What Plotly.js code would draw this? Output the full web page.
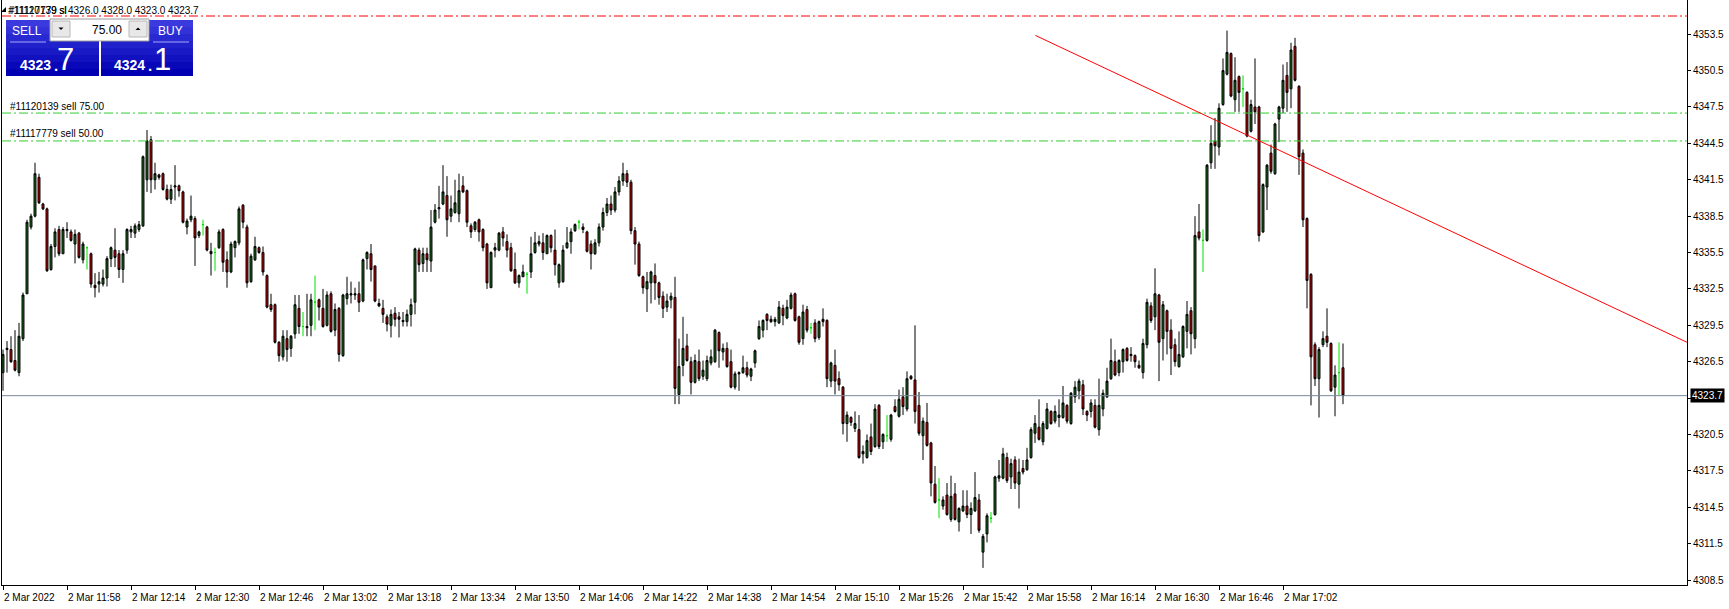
<!DOCTYPE html>
<html><head><meta charset="utf-8">
<script src="https://cdn.plot.ly/plotly-3.0.1.min.js"></script>
<style>html,body{margin:0;padding:0;background:#fff;overflow:hidden}#chart{width:1729px;height:609px}</style>
</head><body><div id="chart"></div><script>
// ---- data: 1-minute bars, 2 Mar 2022 11:42 .. 17:17 ----
const opens = [
4325.6,4327.5,4327.5,4326.6,4325.6,4328.4,4332.1,4337.6,4338.5,4341.7,
4339.5,4339.1,4334.1,4336.0,4337.4,4335.4,4337.3,4337.2,4336.2,4337.1,
4334.9,4335.9,4335.4,4332.8,4332.9,4332.9,4333.4,4335.0,4335.7,4335.4,
4334.1,4335.7,4337.2,4337.1,4337.4,4337.7,4341.5,4344.8,4341.5,4341.9,
4342.0,4340.7,4339.9,4340.9,4341.0,4340.5,4337.6,4338.2,4338.3,4336.9,
4337.8,4337.6,4335.6,4335.5,4335.9,4337.4,4334.9,4333.9,4335.9,4336.3,
4339.4,4337.6,4333.1,4334.9,4335.9,4335.5,4333.6,4331.2,4331.2,4328.1,
4326.9,4328.4,4327.6,4328.8,4330.9,4329.4,4329.4,4329.5,4331.4,4331.6,
4330.9,4329.5,4332.1,4329.1,4330.9,4327.0,4331.7,4332.0,4332.0,4332.1,
4331.5,4335.0,4335.4,4334.4,4331.1,4330.9,4330.2,4329.5,4330.5,4330.2,
4329.8,4329.8,4330.4,4331.4,4335.7,4334.6,4335.4,4334.8,4338.0,4339.1,
4339.5,4340.2,4338.5,4338.8,4338.7,4341.0,4340.6,4337.7,4337.4,4338.2,
4337.4,4336.2,4332.6,4335.7,4335.7,4337.2,4336.4,4335.9,4334.1,4333.0,
4333.5,4333.7,4333.9,4335.5,4336.2,4336.3,4335.4,4336.9,4335.7,4333.0,
4333.1,4335.9,4336.4,4337.3,4338.0,4337.6,4337.2,4336.2,4335.4,4336.3,
4337.6,4338.8,4339.5,4339.0,4340.5,4341.4,4342.0,4341.3,4337.3,4336.2,
4333.5,4332.5,4333.0,4333.6,4333.0,4331.9,4331.0,4331.6,4331.8,4323.8,
4326.2,4327.8,4326.5,4324.8,4326.5,4325.3,4325.1,4326.4,4326.5,4328.9,
4327.3,4327.6,4326.5,4324.4,4325.6,4325.6,4326.0,4325.3,4326.4,4328.4,
4329.1,4330.4,4330.0,4329.8,4329.7,4330.9,4330.1,4330.9,4332.1,4330.2,
4328.4,4330.8,4329.3,4329.7,4328.5,4330.0,4329.9,4324.9,4326.2,4325.1,
4324.4,4321.4,4321.9,4321.0,4320.9,4318.9,4318.6,4320.3,4319.5,4322.9,
4319.9,4320.4,4320.1,4322.8,4322.0,4323.6,4322.6,4325.3,4325.0,4322.9,
4320.4,4321.5,4319.8,4316.4,4315.1,4314.6,4315.5,4313.5,4315.6,4313.3,
4314.2,4314.6,4313.9,4314.2,4315.1,4310.8,4312.3,4313.6,4313.9,4316.9,
4316.9,4318.6,4317.0,4318.4,4316.4,4317.7,4317.6,4318.6,4320.6,4321.1,
4319.9,4321.0,4322.4,4321.6,4321.9,4321.9,4322.9,4321.4,4323.6,4324.1,
4324.6,4322.4,4322.4,4322.9,4320.9,4322.6,4323.6,4325.1,4326.5,4325.6,
4326.5,4327.6,4327.0,4327.0,4326.2,4325.6,4327.9,4331.1,4330.2,4332.0,
4328.4,4330.7,4329.1,4327.9,4326.1,4326.9,4329.0,4330.7,4328.4,4337.2,
4336.5,4336.5,4342.9,4344.7,4344.2,4347.7,4350.2,4351.9,4348.1,4350.0,
4349.0,4348.7,4345.5,4347.5,4347.5,4337.2,4340.9,4343.7,4342.0,4346.5,
4347.4,4350.1,4349.0,4352.5,4349.2,4343.7,4338.3,4333.7,4327.9,4325.1,
4327.9,4328.6,4328.0,4324.4,4325.6,4326.0];
const highs = [
4327.5,4328.2,4328.6,4329.1,4329.7,4332.2,4338.2,4338.7,4342.9,4342.0,
4339.6,4339.2,4336.2,4337.5,4337.7,4337.6,4338.0,4337.4,4337.4,4337.2,
4336.4,4336.0,4335.5,4333.8,4333.9,4334.1,4335.2,4336.0,4337.5,4335.7,
4335.7,4337.5,4337.7,4337.9,4338.1,4343.5,4345.6,4345.1,4342.9,4342.0,
4342.1,4341.1,4341.1,4342.7,4341.1,4340.6,4338.3,4340.2,4338.5,4337.3,
4338.2,4337.7,4336.3,4335.9,4337.4,4337.5,4335.6,4336.4,4336.5,4339.3,
4339.5,4337.8,4335.4,4336.8,4336.0,4336.0,4333.7,4332.1,4331.3,4328.2,
4329.1,4329.1,4328.7,4332.0,4332.0,4330.6,4332.1,4332.1,4333.6,4331.7,
4332.5,4332.3,4332.3,4331.3,4331.0,4332.1,4333.5,4333.1,4332.6,4333.1,
4335.0,4335.6,4336.2,4334.4,4331.7,4331.6,4330.4,4330.8,4331.0,4330.6,
4330.6,4330.8,4331.7,4335.9,4335.9,4335.9,4335.9,4339.0,4339.5,4341.0,
4342.7,4341.8,4340.2,4341.5,4342.0,4341.8,4340.7,4337.9,4338.1,4338.3,
4337.5,4336.3,4335.6,4336.3,4337.2,4337.6,4337.0,4336.3,4335.5,4333.7,
4334.5,4333.9,4336.8,4337.2,4336.9,4337.1,4337.0,4337.0,4337.4,4334.6,
4336.1,4337.6,4337.5,4337.9,4338.2,4337.9,4337.3,4336.5,4336.6,4337.9,
4339.2,4340.0,4340.2,4340.9,4341.8,4342.9,4342.3,4341.5,4337.6,4336.4,
4333.6,4333.9,4334.0,4334.6,4333.1,4332.3,4332.1,4332.2,4333.5,4328.4,
4330.2,4328.8,4326.9,4327.1,4327.5,4326.6,4327.0,4327.5,4329.2,4329.0,
4328.0,4328.1,4327.5,4325.7,4325.7,4327.0,4326.5,4326.0,4327.5,4329.9,
4330.0,4330.5,4330.3,4330.2,4331.5,4331.2,4331.6,4332.2,4332.2,4330.3,
4331.2,4331.1,4329.7,4330.0,4329.9,4330.9,4330.0,4326.5,4327.5,4325.7,
4324.5,4322.4,4322.0,4322.4,4322.1,4319.6,4320.5,4321.4,4323.0,4323.0,
4320.6,4322.1,4322.2,4323.4,4324.2,4324.4,4325.7,4325.4,4329.5,4324.0,
4321.9,4323.1,4319.9,4317.9,4316.9,4315.4,4316.5,4317.1,4316.5,4314.5,
4315.9,4315.9,4314.9,4317.4,4315.6,4312.3,4314.0,4314.1,4317.1,4318.4,
4319.4,4319.0,4318.5,4318.7,4318.5,4318.4,4319.4,4321.1,4322.1,4323.4,
4321.6,4323.1,4322.5,4322.9,4323.4,4324.5,4323.0,4324.0,4324.9,4325.1,
4325.0,4322.5,4323.4,4323.4,4325.1,4324.2,4326.0,4328.4,4327.5,4326.7,
4327.6,4327.7,4327.7,4327.1,4326.6,4328.4,4331.7,4331.4,4334.2,4332.1,
4331.5,4330.8,4330.0,4328.4,4329.0,4329.5,4331.5,4331.0,4338.5,4339.5,
4337.4,4342.8,4346.0,4346.6,4347.8,4351.5,4353.8,4352.0,4351.6,4350.1,
4350.1,4348.8,4348.1,4351.5,4347.6,4341.2,4342.8,4344.4,4346.2,4347.6,
4351.0,4351.2,4352.8,4353.2,4349.3,4344.0,4338.4,4333.8,4328.1,4327.7,
4329.0,4330.9,4328.1,4326.2,4328.1,4328.0];
const lows = [
4324.1,4325.6,4326.4,4325.7,4325.3,4328.2,4332.1,4337.4,4338.4,4339.5,
4339.0,4333.9,4334.0,4335.1,4335.2,4335.4,4336.7,4336.4,4334.6,4335.0,
4334.6,4334.1,4332.6,4331.8,4332.2,4332.7,4332.7,4334.3,4334.3,4333.4,
4333.0,4335.4,4336.7,4336.7,4337.2,4337.6,4340.5,4340.4,4340.7,4341.5,
4340.6,4339.8,4339.5,4339.8,4340.1,4337.9,4337.0,4338.0,4334.4,4336.7,
4336.9,4335.6,4333.6,4334.0,4335.8,4333.9,4332.6,4333.8,4335.1,4336.1,
4337.5,4332.6,4333.0,4334.8,4335.4,4333.6,4330.9,4330.6,4328.0,4326.5,
4326.6,4326.5,4326.9,4328.4,4328.8,4328.6,4328.6,4328.6,4329.1,4329.9,
4329.3,4329.4,4328.9,4328.6,4326.5,4326.9,4331.2,4331.3,4331.6,4330.6,
4331.4,4334.1,4333.1,4331.4,4331.0,4329.7,4329.0,4328.5,4329.4,4328.5,
4329.4,4329.4,4329.4,4330.4,4333.9,4333.9,4333.9,4333.9,4337.9,4338.3,
4339.4,4336.8,4338.0,4338.7,4338.0,4340.4,4337.6,4336.7,4337.2,4336.4,
4335.6,4332.5,4332.6,4335.1,4335.6,4336.0,4335.1,4333.9,4332.9,4332.6,
4333.5,4332.1,4333.4,4335.4,4336.0,4334.9,4335.4,4335.5,4333.6,4332.6,
4333.0,4335.8,4335.4,4337.2,4337.4,4337.1,4335.5,4334.1,4335.3,4336.0,
4337.3,4338.5,4338.6,4338.8,4340.2,4341.0,4340.9,4337.0,4334.5,4333.5,
4332.1,4330.6,4331.3,4331.6,4331.2,4330.1,4330.6,4330.9,4323.0,4323.0,
4325.3,4326.5,4323.8,4324.7,4324.9,4325.0,4324.9,4326.2,4326.4,4326.0,
4326.6,4326.0,4324.3,4324.2,4324.1,4325.5,4325.2,4324.9,4326.0,4328.3,
4328.5,4329.1,4329.7,4329.4,4329.6,4329.5,4330.0,4330.8,4329.8,4327.9,
4327.9,4328.9,4328.8,4328.1,4328.3,4329.4,4324.4,4324.4,4323.8,4324.1,
4320.5,4319.9,4321.2,4320.7,4318.5,4318.1,4318.5,4318.8,4319.4,4319.3,
4319.3,4319.9,4319.9,4322.3,4321.9,4322.1,4322.4,4325.0,4321.4,4320.4,
4318.4,4319.5,4315.4,4314.8,4313.6,4314.3,4313.8,4313.3,4313.4,4312.5,
4314.1,4313.6,4312.3,4314.1,4312.4,4309.5,4311.6,4313.2,4313.8,4316.6,
4316.8,4316.5,4316.0,4316.0,4314.4,4317.2,4317.5,4318.5,4319.8,4320.0,
4319.6,4320.9,4321.3,4321.4,4321.1,4321.8,4321.4,4321.3,4323.1,4323.4,
4322.1,4321.6,4321.9,4321.0,4320.4,4322.0,4323.5,4325.0,4325.3,4325.3,
4325.6,4326.5,4326.5,4326.0,4325.9,4325.1,4327.6,4329.7,4329.1,4324.9,
4326.6,4327.1,4325.4,4326.1,4326.0,4326.8,4327.6,4327.1,4327.6,4336.5,
4333.9,4336.4,4342.4,4342.4,4343.5,4347.6,4350.1,4348.3,4347.1,4347.1,
4347.5,4345.0,4345.4,4346.1,4336.4,4337.1,4339.0,4342.0,4341.9,4344.6,
4347.0,4347.1,4347.4,4349.6,4341.9,4337.6,4330.9,4322.9,4324.5,4321.9,
4327.7,4327.7,4324.0,4322.0,4323.7,4323.0];
const closes = [
4327.1,4327.6,4326.5,4325.8,4328.6,4332.0,4338.0,4338.5,4342.0,4339.6,
4339.1,4334.0,4336.0,4337.2,4335.4,4337.4,4337.4,4336.5,4337.0,4335.1,
4336.2,4335.9,4332.9,4332.6,4333.1,4333.4,4335.0,4335.9,4335.1,4334.1,
4335.4,4337.4,4337.4,4337.7,4337.8,4343.4,4344.7,4341.5,4342.0,4341.7,
4340.7,4339.9,4340.7,4341.0,4340.6,4338.0,4338.1,4338.5,4336.7,4337.2,
4337.8,4335.7,4335.4,4335.5,4337.2,4334.7,4333.9,4336.2,4336.4,4339.1,
4338.0,4333.0,4335.2,4336.0,4335.5,4333.9,4331.0,4330.8,4328.1,4327.0,
4328.6,4327.5,4328.6,4331.2,4329.4,4329.4,4329.3,4331.6,4331.4,4331.0,
4329.4,4332.0,4329.0,4330.8,4327.1,4332.0,4332.1,4332.1,4332.1,4331.4,
4334.9,4335.5,4334.1,4331.5,4331.3,4330.4,4329.6,4330.4,4330.0,4330.0,
4329.9,4330.4,4331.2,4335.8,4334.5,4335.4,4334.9,4337.6,4339.0,4339.2,
4340.5,4338.2,4339.1,4339.6,4340.6,4340.5,4338.0,4337.2,4338.0,4337.2,
4335.9,4333.0,4335.5,4335.9,4337.1,4336.7,4335.7,4334.0,4333.0,4333.6,
4333.9,4333.7,4335.4,4336.3,4336.4,4335.5,4336.9,4335.9,4334.5,4334.5,
4335.7,4336.3,4337.2,4337.8,4338.0,4337.4,4335.6,4335.4,4336.3,4337.6,
4338.8,4339.5,4339.0,4340.5,4341.4,4342.0,4341.3,4337.3,4336.2,4333.6,
4332.6,4333.1,4333.9,4333.0,4331.8,4330.9,4331.5,4331.9,4324.3,4326.1,
4327.6,4326.6,4324.8,4326.6,4325.1,4325.8,4326.6,4326.9,4329.1,4327.4,
4327.6,4326.1,4324.4,4325.5,4325.5,4326.0,4325.4,4325.9,4327.4,4329.4,
4329.9,4329.9,4329.8,4330.0,4331.0,4330.3,4331.0,4332.0,4329.9,4328.1,
4330.6,4329.1,4329.3,4328.4,4329.8,4329.8,4325.1,4326.4,4324.9,4324.6,
4321.4,4322.1,4321.5,4321.4,4318.6,4319.1,4320.0,4319.1,4322.6,4319.5,
4320.5,4320.4,4322.1,4322.4,4323.4,4322.8,4325.1,4325.1,4322.4,4320.6,
4321.6,4319.6,4316.5,4314.9,4315.1,4315.1,4313.9,4315.4,4313.5,4314.4,
4314.6,4313.9,4314.4,4315.3,4312.6,4312.1,4313.8,4313.6,4317.0,4317.1,
4318.9,4316.7,4318.1,4316.5,4317.4,4317.4,4318.4,4320.9,4321.4,4320.1,
4321.4,4322.6,4321.4,4322.4,4322.1,4323.1,4321.6,4323.9,4324.4,4324.9,
4322.6,4322.1,4323.1,4321.1,4322.9,4323.9,4324.9,4326.6,4325.4,4326.6,
4327.5,4326.6,4327.1,4326.5,4326.0,4328.0,4331.4,4329.9,4332.1,4328.1,
4331.2,4329.0,4327.6,4326.5,4327.1,4329.4,4330.4,4328.8,4336.9,4336.7,
4336.5,4342.7,4344.5,4344.3,4347.4,4350.5,4352.0,4348.4,4349.7,4348.7,
4349.0,4345.1,4347.7,4347.1,4336.9,4341.1,4342.7,4342.2,4346.1,4347.5,
4349.7,4348.7,4352.2,4349.7,4343.4,4338.2,4333.2,4326.9,4325.1,4327.5,
4328.4,4328.1,4324.1,4325.4,4325.6,4323.7];

const tickBars = [0,16,32,48,64,80,96,112,128,144,160,176,192,208,224,240,256,272,288,304,320];
const tickLabels = ["2 Mar 2022","2 Mar 11:58","2 Mar 12:14","2 Mar 12:30","2 Mar 12:46","2 Mar 13:02",
  "2 Mar 13:18","2 Mar 13:34","2 Mar 13:50","2 Mar 14:06","2 Mar 14:22","2 Mar 14:38","2 Mar 14:54",
  "2 Mar 15:10","2 Mar 15:26","2 Mar 15:42","2 Mar 15:58","2 Mar 16:14","2 Mar 16:30","2 Mar 16:46","2 Mar 17:02"];
const priceTicks = [4308.5,4311.5,4314.5,4317.5,4320.5,4323.5,4326.5,4329.5,4332.5,4335.5,4338.5,4341.5,4344.5,4347.5,4350.5,4353.5];

const bidPrice = 4323.7;
const askPrice = 4324.1;
const stopLevel = 4355.0;
const orderLevels = [4347.0, 4344.7];
const orderLabels = ["#11120139 sell 75.00", "#11117779 sell 50.00"];
const trendStart = [258.1, 4353.4];
const trendEnd = [421.0, 4328.1];
const lotSize = "75.00";
const headerOHLC = "4326.0 4328.0 4323.0 4323.7";

// ---- geometry helpers (plot area in page pixels) ----
const PL = 2, PW = 1685, PT = 0, PH = 585;
const pxX = v => (v - PL) / PW;
const pxY = v => 1 - (v - PT) / PH;
const FONT = 'Liberation Sans, Arial, sans-serif';

function pick(cond) {
  const s = {x: [], open: [], high: [], low: [], close: []};
  opens.forEach((o, i) => {
    if (cond(i)) { s.x.push(i); s.open.push(o); s.high.push(highs[i]); s.low.push(lows[i]); s.close.push(closes[i]); }
  });
  return s;
}
const bull = pick(i => closes[i] > opens[i]);
const bear = pick(i => closes[i] < opens[i]);
const doji = pick(i => closes[i] === opens[i]);

function cs(s, upFill, downFill, lineCol) {
  return Object.assign({type: 'candlestick', hoverinfo: 'skip', showlegend: false, whiskerwidth: 0,
    increasing: {line: {color: lineCol, width: 1}, fillcolor: upFill},
    decreasing: {line: {color: lineCol, width: 1}, fillcolor: downFill}}, s);
}
const traces = [
  cs(bull, '#1a6e1a', '#1a6e1a', '#000000'),
  cs(bear, '#d40000', '#d40000', '#000000'),
  cs(doji, '#00e000', '#00e000', '#00e000')
];

const dashDot = '9px,3px,2px,3px';
const shapes = [
  {type: 'line', xref: 'paper', yref: 'y', x0: 0, x1: 1, y0: stopLevel, y1: stopLevel, line: {color: '#ff0000', width: 1, dash: dashDot}},
  {type: 'line', xref: 'paper', yref: 'y', x0: 0, x1: 1, y0: orderLevels[0], y1: orderLevels[0], line: {color: '#32cd32', width: 1, dash: dashDot}},
  {type: 'line', xref: 'paper', yref: 'y', x0: 0, x1: 1, y0: orderLevels[1], y1: orderLevels[1], line: {color: '#32cd32', width: 1, dash: dashDot}},
  {type: 'line', xref: 'paper', yref: 'y', x0: 0, x1: 1, y0: bidPrice, y1: bidPrice, line: {color: '#778899', width: 1}},
  {type: 'line', xref: 'x', yref: 'y', x0: trendStart[0], y0: trendStart[1], x1: trendEnd[0], y1: trendEnd[1], line: {color: '#ff0000', width: 1}}
];
// one-click trading panel
const bands = 8;
[[6, 99], [101, 193]].forEach(([a, b]) => {
  for (let k = 0; k < bands; k++) {
    const y0 = 20 + k * 56 / bands, y1 = y0 + 56 / bands + 0.5;
    const t = k / (bands - 1);
    const r = Math.round(58 * (1 - t)), bl = Math.round(222 - 44 * t);
    shapes.push({type: 'rect', xref: 'paper', yref: 'paper', x0: pxX(a), x1: pxX(b), y0: pxY(y0), y1: pxY(Math.min(y1, 76)),
      fillcolor: `rgb(${r},${r},${bl})`, line: {width: 0}});
  }
});
shapes.push({type: 'rect', xref: 'paper', yref: 'paper', x0: pxX(50), x1: pxX(149), y0: pxY(19), y1: pxY(41), fillcolor: '#ffffff', line: {color: '#9a9a9a', width: 1}});
shapes.push({type: 'rect', xref: 'paper', yref: 'paper', x0: pxX(52), x1: pxX(70), y0: pxY(21), y1: pxY(37), fillcolor: '#e8e8e8', line: {color: '#b8b8b8', width: 1}});
shapes.push({type: 'rect', xref: 'paper', yref: 'paper', x0: pxX(129), x1: pxX(147), y0: pxY(21), y1: pxY(37), fillcolor: '#e8e8e8', line: {color: '#b8b8b8', width: 1}});
shapes.push({type: 'path', xref: 'paper', yref: 'paper', path: `M ${pxX(58.5)} ${pxY(27.5)} L ${pxX(63.5)} ${pxY(27.5)} L ${pxX(61)} ${pxY(30)} Z`, fillcolor: '#000', line: {width: 0}});
shapes.push({type: 'path', xref: 'paper', yref: 'paper', path: `M ${pxX(135.5)} ${pxY(30)} L ${pxX(140.5)} ${pxY(30)} L ${pxX(138)} ${pxY(27.5)} Z`, fillcolor: '#000', line: {width: 0}});
shapes.push({type: 'line', xref: 'paper', yref: 'paper', x0: pxX(10), x1: pxX(46), y0: pxY(42), y1: pxY(42), line: {color: '#a8a8ff', width: 1}});
shapes.push({type: 'line', xref: 'paper', yref: 'paper', x0: pxX(153), x1: pxX(189), y0: pxY(42), y1: pxY(42), line: {color: '#a8a8ff', width: 1}});
// small header icon
shapes.push({type: 'path', xref: 'paper', yref: 'paper', path: `M ${pxX(1)} ${pxY(12)} L ${pxX(6)} ${pxY(7)} L ${pxX(6)} ${pxY(12)} Z`, fillcolor: '#000', line: {width: 0}});

function txt(text, x, y, opts) {
  return Object.assign({text: text, xref: 'paper', yref: 'paper', x: pxX(x), y: pxY(y), showarrow: false,
    xanchor: 'left', yanchor: 'middle', font: {family: FONT, size: 10, color: '#000'}}, opts || {});
}
const annotations = [
  txt('#11120139 sl', 6, 10),
  txt('#11117779 sl', 6.5, 10),
  txt(headerOHLC, 66, 10),
  txt(orderLabels[0], 8, 106),
  txt(orderLabels[1], 8, 134),
  txt('SELL', 27, 31, {xanchor: 'center', font: {family: FONT, size: 12, color: '#fff'}}),
  txt('BUY', 170, 31, {xanchor: 'center', font: {family: FONT, size: 12, color: '#fff'}}),
  txt(lotSize, 124, 30, {xanchor: 'right', font: {family: FONT, size: 12, color: '#000'}}),
  txt('<b>' + String(bidPrice).split('.')[0] + '</b>', 35, 65, {xanchor: 'center', font: {family: FONT, size: 14, color: '#fff'}}),
  txt('<b>.</b>', 55.5, 65, {xanchor: 'center', font: {family: FONT, size: 15, color: '#fff'}}),
  txt(String(bidPrice).split('.')[1], 65, 60, {xanchor: 'center', font: {family: FONT, size: 31, color: '#fff'}}),
  txt('<b>' + String(askPrice).split('.')[0] + '</b>', 129, 65, {xanchor: 'center', font: {family: FONT, size: 14, color: '#fff'}}),
  txt('<b>.</b>', 149.5, 65, {xanchor: 'center', font: {family: FONT, size: 15, color: '#fff'}}),
  txt(String(askPrice).split('.')[1], 162, 60, {xanchor: 'center', font: {family: FONT, size: 31, color: '#fff'}}),
  {text: bidPrice.toFixed(1), xref: 'paper', yref: 'y', x: pxX(1690), y: bidPrice, showarrow: false, xanchor: 'left', yanchor: 'middle',
   bgcolor: '#000', borderpad: 1, font: {family: FONT, size: 10, color: '#fff'}}
];
tickBars.forEach((b, k) => {
  annotations.push({text: tickLabels[k], xref: 'x', yref: 'paper', x: b, y: 0, yanchor: 'middle', yshift: -12,
    xanchor: 'left', xshift: -1, showarrow: false, font: {family: FONT, size: 10, color: '#000'}});
});

const layout = {
  width: 1729, height: 609,
  margin: {l: PL, r: 1729 - PL - PW, t: PT, b: 609 - PT - PH, pad: 0},
  paper_bgcolor: '#ffffff', plot_bgcolor: '#ffffff',
  showlegend: false, hovermode: false,
  xaxis: {range: [-0.25, 421], rangeslider: {visible: false}, showgrid: false, zeroline: false,
    showline: true, linecolor: '#000', linewidth: 1, mirror: true,
    ticks: 'outside', ticklen: 4, tickcolor: '#000', tickwidth: 1,
    tickmode: 'array', tickvals: tickBars, showticklabels: false, fixedrange: true},
  yaxis: {side: 'right', range: [4308.09, 4356.32], showgrid: false, zeroline: false,
    showline: true, linecolor: '#000', linewidth: 1, mirror: true,
    ticks: 'outside', ticklen: 3, tickcolor: '#000', tickwidth: 1,
    tickmode: 'array', tickvals: priceTicks, tickformat: '.1f',
    tickfont: {family: FONT, size: 10, color: '#000'}, fixedrange: true},
  shapes: shapes,
  annotations: annotations
};
Plotly.newPlot('chart', traces, layout, {displayModeBar: false, staticPlot: true});
</script></body></html>
